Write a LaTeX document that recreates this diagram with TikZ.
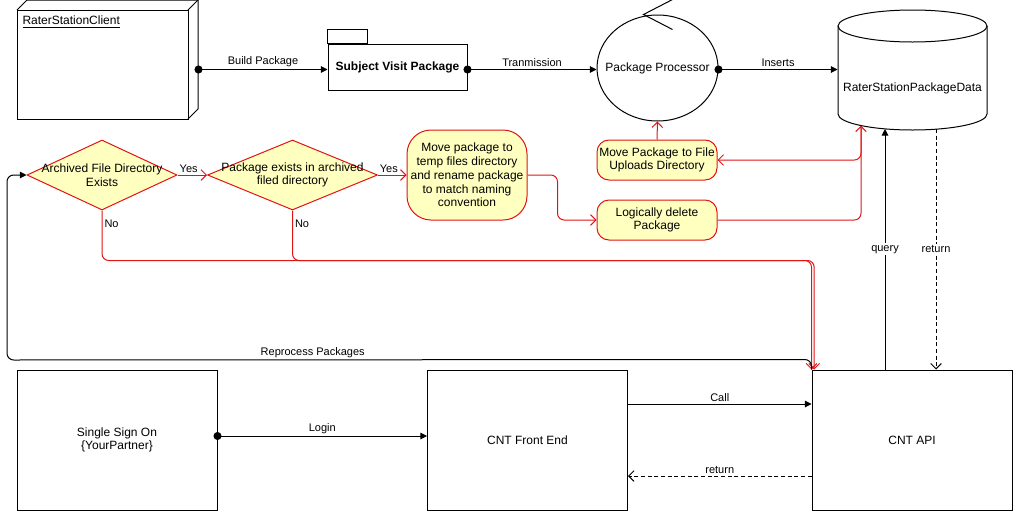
\documentclass[tikz,border=0pt]{standalone}
\usepackage{fontspec}
\setmainfont{Liberation Sans}
\usepackage{tikz}
\usetikzlibrary{shapes.geometric,arrows.meta,calc,positioning}
\definecolor{actred}{RGB}{225,20,20}
\definecolor{actfill}{HTML}{FFFFC0}

\begin{document}
\begin{tikzpicture}[x=0.75pt,y=-0.75pt,line width=0.75pt,
  every node/.style={font=\fontsize{9}{10.3}\selectfont},
  lbl/.style={font=\fontsize{8.25}{9.5}\selectfont,inner sep=1.5pt},
  blk/.style={draw,minimum width=150pt,minimum height=105pt,inner sep=0pt,align=center},
  decision/.style={diamond,draw=actred,fill=actfill,inner sep=0pt,minimum width=#1,minimum height=52.5pt},
  action/.style={draw=actred,fill=actfill,rounded corners=9pt,minimum width=90pt,minimum height=30pt,align=center,inner sep=0pt},
  flow/.style={-{Triangle[length=5pt,width=5pt]}},
  dotflow/.style={{Circle[length=6pt]}-{Triangle[length=5pt,width=5pt]},shorten <=-3pt},
  redflow/.style={actred,rounded corners=5pt,-{Straight Barb[length=4pt,width=8pt]}},
  back/.style={densely dashed,-{Straight Barb[length=4pt,width=8pt]}}]
\useasboundingbox (0,0) rectangle (1013,511);
%
\coordinate (toprow) at (0,69.5);
\coordinate (callrow) at (0,404);
\coordinate (loginrow) at (0,436);
\coordinate (retrow) at (0,476);
%
% client node
\node[minimum width=135.75pt,minimum height=89.25pt,inner sep=0pt] (rsc) at (107.5,59.5) {};
\draw (17,10) rectangle (188,119);
\draw (17,10) -- (27,0) -- (198,0) -- (198,109) -- (188,119);
\draw (188,10) -- (198,0);
\node[anchor=west,inner sep=0pt] (rsctitle) at (22,22) {\underline{RaterStationClient}};
%
% package
\node[draw,minimum width=104.25pt,minimum height=34.5pt,inner sep=0pt,font=\bfseries\fontsize{9}{10.3}\selectfont] (svp) at (397.5,67) {Subject Visit Package};
\draw (svp.north west) rectangle ++(40,-14);
%
% processor
\node[ellipse,draw,minimum width=90.75pt,minimum height=79.5pt,inner sep=0pt] (proc) at (657.5,68) {};
\node (proctxt) at (proc) {Package Processor};
\draw ($(proc.north)+(15,-15)$) -- ($(proc.north)+(-14,0)$) -- ($(proc.north)+(15,15)$);
%
% database
\node[minimum width=111.75pt,minimum height=90pt,inner sep=0pt] (db) at (912.5,70) {};
\draw (912.5,26) ellipse [x radius=55.875pt,y radius=12pt];
\draw (838,26) -- (838,114) arc [start angle=180,end angle=360,x radius=55.875pt,y radius=12pt] -- (987,26);
\node (dbtxt) at (912.5,88) {RaterStationPackageData};
\coordinate (dbdel) at (861,125.6);
\coordinate (dbq) at (885,129);
\coordinate (dbr) at (936,129);
%
\draw[dotflow] (rsc.east |- toprow) -- node[lbl,above]{Build Package} (svp.west |- toprow);
\draw[dotflow] (svp.east |- toprow) -- node[lbl,above]{Tranmission} (proc.west |- toprow);
\draw[dotflow] (proc.east |- toprow) -- node[lbl,above]{Inserts} (db.west |- toprow);
%
% bottom row
\node[blk] (sso) at (117,440) {Single Sign On\\\{YourPartner\}};
\node[blk] (fe) at (527.5,440) {CNT Front End};
\node[blk] (api) at (912,440) {CNT API};
%
% activity part
\node[decision=112.5pt] (dirq) at (102,175) {};
\node[align=center] (dirqtxt) at (dirq) {Archived File Directory\\Exists};
\node[decision=127.5pt] (pkgq) at (292.5,175) {};
\node[align=center] (pkgqtxt) at (pkgq) {Package exists in archived\\filed directory};
\node[action,rounded corners=18pt,minimum height=67.5pt] (mv) at (467,175) {Move package to\\temp files directory\\and rename package\\to match naming\\convention};
\node[action] (upl) at (657,160) {Move Package to File\\Uploads Directory};
\node[action] (del) at (657,220) {Logically delete\\Package};
%
\draw[redflow] (dirq.east) -- node[lbl,above,black,pos=0.38]{Yes} (pkgq.west);
\draw[redflow] (pkgq.east) -- node[lbl,above,black,pos=0.38]{Yes} (mv.west);
\draw[redflow] (mv.east) -- ++(30,0) |- (del.west);
\draw[redflow] (upl.north) -- (proc.south);
\draw[redflow] (del.east) -| (dbdel);
\draw[redflow] (dbdel) |- (upl.east);
\draw[redflow] (dirq.south) -- node[lbl,right,black,pos=0.26]{No} ++(0,50) -| ([xshift=2pt]api.north west);
\draw[redflow] (pkgq.south) -- node[lbl,right,black,pos=0.26]{No} ++(0,50) -| (api.north west);
%
\coordinate (loopl) at (7,360);
\draw[flow,rounded corners=5pt] (api.north west) -- ++(0,-10) -- node[lbl,above,pos=0.62]{Reprocess Packages} (loopl) |- (dirq.west);
\draw[flow] (dbq |- api.north) -- node[lbl,fill=white]{query} (dbq);
\draw[back] (dbr) -- node[lbl,fill=white]{return} (dbr |- api.north);
%
\draw[dotflow] (sso.east |- loginrow) -- node[lbl,above]{Login} (fe.west |- loginrow);
\draw[flow] (fe.east |- callrow) -- node[lbl,above]{Call} (api.west |- callrow);
\draw[back] (api.west |- retrow) -- node[lbl,above]{return} (fe.east |- retrow);
\end{tikzpicture}
\end{document}
